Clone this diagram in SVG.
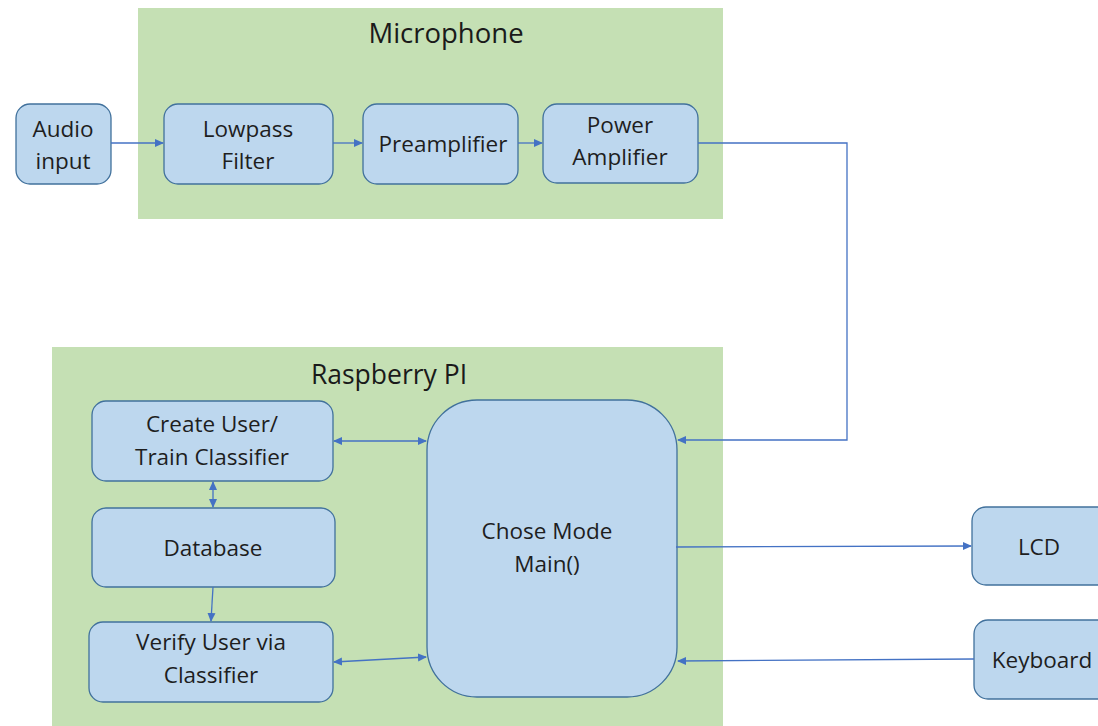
<svg xmlns="http://www.w3.org/2000/svg" width="1098" height="726" viewBox="0 0 1098 726">
<style>
.grp{fill:#c5e0b4;stroke:none}
.node{fill:#bdd7ee;stroke:#41719c;stroke-width:1.3}
.t{font-family:"Open Sans","Liberation Sans",sans-serif;font-size:22.5px;fill:#1e1e1e;text-anchor:middle}
.h{font-family:"Open Sans","Liberation Sans",sans-serif;font-size:26.5px;fill:#1a1a1a;text-anchor:middle}
.c{fill:none;stroke:#4472c4;stroke-width:1.3}
</style>
<defs>
<marker id="ah" markerWidth="10" markerHeight="10" refX="8" refY="5" orient="auto-start-reverse" markerUnits="userSpaceOnUse">
<path d="M0,1 L9,5 L0,9 Z" fill="#4472c4"/>
</marker>
</defs>
<rect width="1098" height="726" fill="#ffffff"/>
<g id="microphone">
<rect class="grp" x="138" y="8" width="585" height="211"/>
<text class="h" x="446" y="43" style="font-size:27.5px">Microphone</text>
</g>
<g id="raspberry">
<rect class="grp" x="52" y="347" width="671" height="379"/>
<text class="h" x="389" y="384">Raspberry PI</text>
</g>
<g id="audio-input">
<rect class="node" x="16" y="104" width="95" height="80" rx="14"/>
<text class="t" x="63" y="137">Audio</text>
<text class="t" x="63" y="169">input</text>
</g>
<g id="lowpass">
<rect class="node" x="164" y="104" width="169" height="80" rx="14"/>
<text class="t" x="248" y="137">Lowpass</text>
<text class="t" x="248" y="169">Filter</text>
</g>
<g id="preamp">
<rect class="node" x="363" y="104" width="155" height="80" rx="14"/>
<text class="t" x="443" y="152">Preamplifier</text>
</g>
<g id="power-amp">
<rect class="node" x="543" y="104" width="155" height="79" rx="14"/>
<text class="t" x="620" y="133">Power</text>
<text class="t" x="620" y="165">Amplifier</text>
</g>
<g id="create-user">
<rect class="node" x="92" y="401" width="241" height="80" rx="14"/>
<text class="t" x="212" y="432">Create User/</text>
<text class="t" x="212" y="465">Train Classifier</text>
</g>
<g id="database">
<rect class="node" x="92" y="508" width="243" height="79" rx="14"/>
<text class="t" x="213" y="556">Database</text>
</g>
<g id="verify-user">
<rect class="node" x="89" y="622" width="244" height="80" rx="14"/>
<text class="t" x="211" y="650">Verify User via</text>
<text class="t" x="211" y="683">Classifier</text>
</g>
<g id="chose-mode">
<rect class="node" x="427" y="400" width="250" height="297" rx="50"/>
<text class="t" x="547" y="539">Chose Mode</text>
<text class="t" x="547" y="572">Main()</text>
</g>
<g id="lcd">
<rect class="node" x="972" y="507" width="140" height="78" rx="14"/>
<text class="t" x="1039" y="555">LCD</text>
</g>
<g id="keyboard">
<rect class="node" x="974" y="620" width="140" height="79" rx="14"/>
<text class="t" x="1042" y="668">Keyboard</text>
</g>
<g id="connectors">
<line class="c" x1="111" y1="143" x2="163" y2="143" marker-end="url(#ah)"/>
<line class="c" x1="333" y1="143" x2="362" y2="143" marker-end="url(#ah)"/>
<line class="c" x1="518" y1="143" x2="542" y2="143" marker-end="url(#ah)"/>
<polyline class="c" points="698,143 847,143 847,440 678,440" marker-end="url(#ah)"/>
<line class="c" x1="334" y1="441" x2="426" y2="441" marker-start="url(#ah)" marker-end="url(#ah)"/>
<line class="c" x1="213" y1="482" x2="213" y2="507" marker-start="url(#ah)" marker-end="url(#ah)"/>
<line class="c" x1="213" y1="587" x2="211" y2="621" marker-end="url(#ah)"/>
<line class="c" x1="334" y1="662" x2="426" y2="657" marker-start="url(#ah)" marker-end="url(#ah)"/>
<line class="c" x1="676" y1="547" x2="971" y2="546" marker-end="url(#ah)"/>
<line class="c" x1="974" y1="659" x2="678" y2="661" marker-end="url(#ah)"/>
</g>
</svg>
